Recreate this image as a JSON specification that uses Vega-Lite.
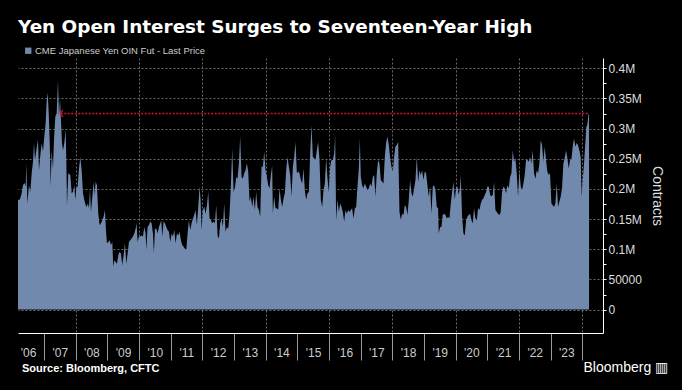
{
  "$schema": "https://vega.github.io/schema/vega-lite/v6.json",
  "width": 585,
  "height": 275,
  "autosize": {"type": "none"},
  "padding": {"left": 18, "top": 58, "right": 79, "bottom": 57},
  "background": "#000000",
  "config": {
    "view": {"stroke": null},
    "font": "Liberation Sans"
  },
  "title": {
    "text": "Yen Open Interest Surges to Seventeen-Year High",
    "anchor": "start",
    "frame": "group",
    "font": "DejaVu Sans",
    "fontSize": 18.4,
    "fontWeight": "bold",
    "color": "#ffffff",
    "baseline": "alphabetic",
    "offset": -5
  },
  "resolve": {"axis": {"x": "independent"}},
  "layer": [
    {
      "data": {"values": [
        {"t":2006.181,"v":182000},{"t":2006.234,"v":182000},{"t":2006.286,"v":190000},{"t":2006.339,"v":206000},{"t":2006.392,"v":210000},{"t":2006.423,"v":204000},{"t":2006.444,"v":242000},{"t":2006.476,"v":176000},{"t":2006.528,"v":206000},{"t":2006.570,"v":195000},{"t":2006.613,"v":226000},{"t":2006.655,"v":245000},{"t":2006.686,"v":276000},{"t":2006.718,"v":248000},{"t":2006.760,"v":264000},{"t":2006.812,"v":281000},{"t":2006.844,"v":231000},{"t":2006.886,"v":256000},{"t":2006.928,"v":276000},{"t":2006.970,"v":262000},{"t":2007.012,"v":287000},{"t":2007.054,"v":309000},{"t":2007.086,"v":345000},{"t":2007.118,"v":360000},{"t":2007.149,"v":328000},{"t":2007.181,"v":281000},{"t":2007.212,"v":204000},{"t":2007.244,"v":264000},{"t":2007.286,"v":234000},{"t":2007.317,"v":281000},{"t":2007.360,"v":320000},{"t":2007.402,"v":325000},{"t":2007.444,"v":380000},{"t":2007.475,"v":320000},{"t":2007.507,"v":350000},{"t":2007.538,"v":314000},{"t":2007.570,"v":276000},{"t":2007.602,"v":264000},{"t":2007.644,"v":276000},{"t":2007.686,"v":298000},{"t":2007.707,"v":248000},{"t":2007.728,"v":173000},{"t":2007.770,"v":226000},{"t":2007.833,"v":223000},{"t":2007.875,"v":193000},{"t":2007.917,"v":195000},{"t":2007.959,"v":206000},{"t":2007.991,"v":182000},{"t":2008.022,"v":201000},{"t":2008.065,"v":204000},{"t":2008.107,"v":234000},{"t":2008.149,"v":253000},{"t":2008.191,"v":231000},{"t":2008.233,"v":193000},{"t":2008.286,"v":179000},{"t":2008.338,"v":170000},{"t":2008.391,"v":176000},{"t":2008.422,"v":168000},{"t":2008.454,"v":201000},{"t":2008.485,"v":162000},{"t":2008.528,"v":187000},{"t":2008.570,"v":212000},{"t":2008.601,"v":190000},{"t":2008.633,"v":212000},{"t":2008.675,"v":206000},{"t":2008.717,"v":159000},{"t":2008.759,"v":140000},{"t":2008.801,"v":143000},{"t":2008.843,"v":148000},{"t":2008.885,"v":154000},{"t":2008.927,"v":165000},{"t":2008.959,"v":132000},{"t":2008.990,"v":110000},{"t":2009.033,"v":112000},{"t":2009.075,"v":115000},{"t":2009.117,"v":107000},{"t":2009.159,"v":112000},{"t":2009.190,"v":71000},{"t":2009.222,"v":82000},{"t":2009.264,"v":79000},{"t":2009.306,"v":76000},{"t":2009.348,"v":90000},{"t":2009.390,"v":96000},{"t":2009.432,"v":93000},{"t":2009.474,"v":74000},{"t":2009.516,"v":90000},{"t":2009.559,"v":110000},{"t":2009.601,"v":76000},{"t":2009.643,"v":93000},{"t":2009.685,"v":112000},{"t":2009.727,"v":115000},{"t":2009.769,"v":118000},{"t":2009.811,"v":121000},{"t":2009.853,"v":126000},{"t":2009.895,"v":134000},{"t":2009.927,"v":143000},{"t":2009.958,"v":112000},{"t":2010.001,"v":121000},{"t":2010.043,"v":121000},{"t":2010.085,"v":123000},{"t":2010.127,"v":121000},{"t":2010.169,"v":137000},{"t":2010.211,"v":126000},{"t":2010.232,"v":99000},{"t":2010.274,"v":137000},{"t":2010.316,"v":140000},{"t":2010.358,"v":146000},{"t":2010.400,"v":143000},{"t":2010.443,"v":126000},{"t":2010.474,"v":93000},{"t":2010.506,"v":134000},{"t":2010.548,"v":134000},{"t":2010.590,"v":126000},{"t":2010.632,"v":137000},{"t":2010.674,"v":143000},{"t":2010.706,"v":148000},{"t":2010.737,"v":121000},{"t":2010.779,"v":146000},{"t":2010.821,"v":143000},{"t":2010.863,"v":137000},{"t":2010.905,"v":132000},{"t":2010.948,"v":129000},{"t":2010.990,"v":112000},{"t":2011.032,"v":126000},{"t":2011.074,"v":121000},{"t":2011.116,"v":132000},{"t":2011.158,"v":110000},{"t":2011.200,"v":126000},{"t":2011.242,"v":123000},{"t":2011.284,"v":129000},{"t":2011.326,"v":115000},{"t":2011.368,"v":107000},{"t":2011.411,"v":104000},{"t":2011.453,"v":101000},{"t":2011.495,"v":99000},{"t":2011.537,"v":126000},{"t":2011.579,"v":148000},{"t":2011.621,"v":132000},{"t":2011.663,"v":143000},{"t":2011.705,"v":151000},{"t":2011.747,"v":157000},{"t":2011.789,"v":165000},{"t":2011.831,"v":140000},{"t":2011.874,"v":170000},
        {"t":2011.915,"v":204000},{"t":2011.947,"v":182000},{"t":2011.979,"v":132000},{"t":2012.021,"v":165000},{"t":2012.063,"v":170000},{"t":2012.105,"v":159000},{"t":2012.147,"v":173000},{"t":2012.189,"v":195000},{"t":2012.231,"v":151000},{"t":2012.273,"v":148000},{"t":2012.315,"v":143000},{"t":2012.357,"v":146000},{"t":2012.399,"v":143000},{"t":2012.442,"v":173000},{"t":2012.484,"v":123000},{"t":2012.526,"v":118000},{"t":2012.568,"v":143000},{"t":2012.610,"v":151000},{"t":2012.652,"v":137000},{"t":2012.694,"v":176000},{"t":2012.736,"v":129000},{"t":2012.778,"v":137000},{"t":2012.820,"v":134000},{"t":2012.862,"v":159000},{"t":2012.905,"v":206000},{"t":2012.947,"v":267000},{"t":2012.989,"v":195000},{"t":2013.031,"v":201000},{"t":2013.073,"v":220000},{"t":2013.115,"v":217000},{"t":2013.157,"v":242000},{"t":2013.199,"v":287000},{"t":2013.241,"v":220000},{"t":2013.283,"v":217000},{"t":2013.325,"v":226000},{"t":2013.367,"v":231000},{"t":2013.410,"v":242000},{"t":2013.452,"v":229000},{"t":2013.494,"v":179000},{"t":2013.536,"v":187000},{"t":2013.578,"v":170000},{"t":2013.620,"v":187000},{"t":2013.662,"v":165000},{"t":2013.704,"v":195000},{"t":2013.746,"v":170000},{"t":2013.788,"v":165000},{"t":2013.830,"v":154000},{"t":2013.873,"v":237000},{"t":2013.915,"v":237000},{"t":2013.957,"v":262000},{"t":2013.999,"v":231000},{"t":2014.041,"v":220000},{"t":2014.083,"v":206000},{"t":2014.125,"v":201000},{"t":2014.167,"v":223000},{"t":2014.209,"v":239000},{"t":2014.230,"v":159000},{"t":2014.272,"v":187000},{"t":2014.314,"v":168000},{"t":2014.357,"v":168000},{"t":2014.399,"v":165000},{"t":2014.441,"v":201000},{"t":2014.483,"v":182000},{"t":2014.525,"v":170000},{"t":2014.567,"v":184000},{"t":2014.609,"v":193000},{"t":2014.651,"v":231000},{"t":2014.693,"v":253000},{"t":2014.735,"v":237000},{"t":2014.777,"v":223000},{"t":2014.820,"v":187000},{"t":2014.862,"v":237000},{"t":2014.904,"v":253000},{"t":2014.946,"v":278000},{"t":2014.988,"v":226000},{"t":2015.030,"v":229000},{"t":2015.072,"v":226000},{"t":2015.114,"v":215000},{"t":2015.156,"v":209000},{"t":2015.198,"v":234000},{"t":2015.240,"v":198000},{"t":2015.282,"v":182000},{"t":2015.325,"v":193000},{"t":2015.367,"v":195000},{"t":2015.409,"v":259000},{"t":2015.451,"v":306000},{"t":2015.493,"v":253000},{"t":2015.535,"v":251000},{"t":2015.577,"v":248000},{"t":2015.619,"v":264000},{"t":2015.661,"v":278000},{"t":2015.703,"v":248000},{"t":2015.745,"v":182000},{"t":2015.788,"v":170000},{"t":2015.830,"v":198000},{"t":2015.872,"v":209000},{"t":2015.914,"v":251000},{"t":2015.956,"v":217000},{"t":2015.998,"v":195000},{"t":2016.040,"v":237000},{"t":2016.082,"v":248000},{"t":2016.124,"v":248000},{"t":2016.166,"v":259000},{"t":2016.198,"v":289000},{"t":2016.229,"v":148000},{"t":2016.271,"v":182000},{"t":2016.314,"v":162000},{"t":2016.356,"v":176000},{"t":2016.398,"v":170000},{"t":2016.440,"v":162000},{"t":2016.482,"v":146000},{"t":2016.524,"v":165000},{"t":2016.566,"v":159000},{"t":2016.608,"v":165000},{"t":2016.650,"v":162000},{"t":2016.692,"v":165000},{"t":2016.734,"v":168000},{"t":2016.777,"v":151000},{"t":2016.819,"v":168000},{"t":2016.861,"v":170000},{"t":2016.903,"v":204000},{"t":2016.945,"v":234000},{"t":2016.977,"v":284000},{"t":2017.008,"v":220000},{"t":2017.050,"v":206000},{"t":2017.092,"v":201000},{"t":2017.134,"v":209000},{"t":2017.176,"v":204000},{"t":2017.218,"v":198000},{"t":2017.261,"v":201000},{"t":2017.303,"v":209000},{"t":2017.345,"v":204000},{"t":2017.387,"v":220000},{"t":2017.429,"v":223000},{"t":2017.471,"v":187000},{"t":2017.513,"v":226000},{"t":2017.555,"v":248000},{"t":2017.597,"v":242000},{"t":2017.639,"v":215000},{"t":2017.682,"v":212000},{"t":2017.724,"v":209000},{"t":2017.766,"v":253000},{"t":2017.808,"v":276000},{"t":2017.850,"v":287000},{"t":2017.892,"v":273000},{"t":2017.934,"v":251000},{"t":2017.976,"v":237000},{"t":2018.018,"v":229000},{"t":2018.060,"v":253000},{"t":2018.102,"v":270000},{"t":2018.144,"v":273000},{"t":2018.187,"v":278000},
        {"t":2018.229,"v":162000},{"t":2018.271,"v":149000},{"t":2018.313,"v":159000},{"t":2018.355,"v":157000},{"t":2018.397,"v":173000},{"t":2018.439,"v":170000},{"t":2018.481,"v":157000},{"t":2018.523,"v":182000},{"t":2018.565,"v":215000},{"t":2018.607,"v":193000},{"t":2018.649,"v":187000},{"t":2018.692,"v":201000},{"t":2018.734,"v":215000},{"t":2018.776,"v":253000},{"t":2018.818,"v":212000},{"t":2018.860,"v":231000},{"t":2018.902,"v":223000},{"t":2018.944,"v":231000},{"t":2018.986,"v":215000},{"t":2019.028,"v":229000},{"t":2019.070,"v":226000},{"t":2019.112,"v":206000},{"t":2019.154,"v":187000},{"t":2019.197,"v":204000},{"t":2019.239,"v":159000},{"t":2019.281,"v":204000},{"t":2019.323,"v":206000},{"t":2019.365,"v":198000},{"t":2019.407,"v":170000},{"t":2019.449,"v":168000},{"t":2019.470,"v":126000},{"t":2019.512,"v":137000},{"t":2019.554,"v":137000},{"t":2019.596,"v":157000},{"t":2019.638,"v":159000},{"t":2019.681,"v":157000},{"t":2019.723,"v":151000},{"t":2019.765,"v":154000},{"t":2019.807,"v":151000},{"t":2019.849,"v":176000},{"t":2019.891,"v":195000},{"t":2019.933,"v":212000},{"t":2019.975,"v":182000},{"t":2020.017,"v":201000},{"t":2020.059,"v":204000},{"t":2020.101,"v":190000},{"t":2020.143,"v":204000},{"t":2020.165,"v":223000},{"t":2020.207,"v":154000},{"t":2020.249,"v":126000},{"t":2020.291,"v":123000},{"t":2020.333,"v":148000},{"t":2020.375,"v":154000},{"t":2020.417,"v":157000},{"t":2020.459,"v":159000},{"t":2020.501,"v":148000},{"t":2020.543,"v":143000},{"t":2020.585,"v":168000},{"t":2020.628,"v":151000},{"t":2020.670,"v":148000},{"t":2020.712,"v":168000},{"t":2020.754,"v":165000},{"t":2020.796,"v":176000},{"t":2020.838,"v":182000},{"t":2020.880,"v":184000},{"t":2020.922,"v":190000},{"t":2020.964,"v":195000},{"t":2021.006,"v":204000},{"t":2021.048,"v":204000},{"t":2021.091,"v":190000},{"t":2021.133,"v":188000},{"t":2021.175,"v":190000},{"t":2021.217,"v":212000},{"t":2021.259,"v":165000},{"t":2021.301,"v":162000},{"t":2021.343,"v":159000},{"t":2021.385,"v":157000},{"t":2021.427,"v":162000},{"t":2021.469,"v":195000},{"t":2021.511,"v":204000},{"t":2021.553,"v":201000},{"t":2021.596,"v":193000},{"t":2021.638,"v":206000},{"t":2021.680,"v":201000},{"t":2021.722,"v":220000},{"t":2021.764,"v":226000},{"t":2021.806,"v":264000},{"t":2021.848,"v":245000},{"t":2021.890,"v":251000},{"t":2021.932,"v":226000},{"t":2021.974,"v":187000},{"t":2022.016,"v":231000},{"t":2022.059,"v":204000},{"t":2022.101,"v":198000},{"t":2022.143,"v":209000},{"t":2022.185,"v":223000},{"t":2022.227,"v":248000},{"t":2022.269,"v":248000},{"t":2022.311,"v":245000},{"t":2022.353,"v":253000},{"t":2022.395,"v":242000},{"t":2022.437,"v":264000},{"t":2022.479,"v":226000},{"t":2022.522,"v":217000},{"t":2022.564,"v":231000},{"t":2022.606,"v":226000},{"t":2022.648,"v":242000},{"t":2022.690,"v":281000},{"t":2022.732,"v":273000},{"t":2022.774,"v":245000},{"t":2022.816,"v":270000},{"t":2022.858,"v":248000},{"t":2022.900,"v":229000},{"t":2022.942,"v":223000},{"t":2022.984,"v":226000},{"t":2023.027,"v":176000},{"t":2023.069,"v":173000},{"t":2023.111,"v":170000},{"t":2023.153,"v":176000},{"t":2023.195,"v":209000},{"t":2023.237,"v":170000},{"t":2023.279,"v":179000},{"t":2023.321,"v":187000},{"t":2023.363,"v":201000},{"t":2023.405,"v":242000},{"t":2023.447,"v":251000},{"t":2023.490,"v":264000},{"t":2023.532,"v":251000},{"t":2023.574,"v":234000},{"t":2023.616,"v":248000},{"t":2023.658,"v":248000},{"t":2023.700,"v":270000},{"t":2023.742,"v":284000},{"t":2023.784,"v":270000},{"t":2023.826,"v":276000},{"t":2023.868,"v":273000},{"t":2023.910,"v":264000},{"t":2023.952,"v":253000},{"t":2023.984,"v":187000},{"t":2024.016,"v":215000},{"t":2024.058,"v":242000},{"t":2024.100,"v":276000},{"t":2024.131,"v":303000},{"t":2024.163,"v":306000},{"t":2024.195,"v":322000},{"t":2024.216,"v":325000}
      ]},
      "mark": {"type": "area", "interpolate": "linear"},
      "encoding": {
        "x": {
          "field": "t", "type": "quantitative",
          "scale": {"domain": [2006.181, 2024.657], "nice": false, "zero": false},
          "axis": {
            "orient": "bottom",
            "zindex": 0,
            "values": [2007,2008,2009,2010,2011,2012,2013,2014,2015,2016,2017,2018,2019,2020,2021,2022,2023,2024],
            "tickCount": 100,
            "labels": false,
            "tickSize": 27,
            "tickColor": "#9a9a9a",
            "grid": true,
            "gridColor": "#6a6a6a",
            "gridDash": [2, 2],
            "gridOpacity": {"condition": {"test": "datum.value % 2 === 0", "value": 1}, "value": 0},
            "domainColor": "#ffffff",
            "title": "Source: Bloomberg, CFTC",
            "titleX": 3.5,
            "titleY": 35.5,
            "titleAlign": "left",
            "titleAnchor": "start",
            "titleBaseline": "middle",
            "titleFontSize": 11,
            "titleFontWeight": "bold",
            "titleColor": "#ffffff"
          }
        },
        "y": {
          "field": "v", "type": "quantitative",
          "scale": {"domain": [-38800, 417100], "nice": false, "zero": false},
          "axis": {
            "orient": "right",
            "zindex": 0,
            "values": [0,25000,50000,75000,100000,125000,150000,175000,200000,225000,250000,275000,300000,325000,350000,375000,400000],
            "tickCount": 100,
            "format": "d",
            "labelExpr": "datum.value % 50000 !== 0 ? '' : (datum.value >= 100000 ? (datum.value / 1000000) + 'M' : datum.label)",
            "labelOverlap": false,
            "labelFontSize": 12,
            "labelColor": "#dddddd",
            "labelPadding": 2,
            "tickSize": 3,
            "tickColor": "#ffffff",
            "grid": true,
            "gridColor": "#6a6a6a",
            "gridDash": [2, 2],
            "gridOpacity": {"condition": {"test": "datum.value % 50000 === 0", "value": 1}, "value": 0},
            "domainColor": "#ffffff",
            "title": "Contracts",
            "titleFontSize": 14,
            "titleFontWeight": "normal",
            "titleColor": "#dddddd",
            "titlePadding": 8
          }
        },
        "y2": {"datum": 0},
        "color": {
          "datum": "CME Japanese Yen OIN Fut - Last Price",
          "type": "nominal",
          "scale": {"range": ["#7189ac"]},
          "legend": {
            "orient": "none",
            "legendX": 5.5,
            "legendY": -12,
            "title": null,
            "padding": 0,
            "symbolType": "square",
            "symbolSize": 40,
            "symbolStrokeWidth": 0,
            "labelFontSize": 9.5,
            "labelLimit": 400,
            "labelColor": "#cccccc",
            "labelOffset": 2
          }
        }
      }
    },
    {
      "data": {"values": [{"t1": 2007.53, "t2": 2024.216, "v": 325000}]},
      "mark": {"type": "rule", "color": "#d3132f", "strokeDash": [2, 1.5], "strokeWidth": 1.5},
      "encoding": {
        "x": {
          "field": "t1", "type": "quantitative",
          "axis": {
            "orient": "bottom",
            "zindex": 0,
            "values": [2006.5,2007.5,2008.5,2009.5,2010.5,2011.5,2012.5,2013.5,2014.5,2015.5,2016.5,2017.5,2018.5,2019.5,2020.5,2021.5,2022.5,2023.5],
            "tickCount": 100,
            "labelExpr": "\"'\" + slice(format(floor(datum.value), 'd'), 2)",
            "labelAlign": "center",
            "labelBaseline": "top",
            "labelPadding": 14,
            "labelFontSize": 12,
            "labelColor": "#cccccc",
            "labelOverlap": false,
            "labelBound": false,
            "labelFlush": false,
            "ticks": false,
            "grid": false,
            "domain": false,
            "title": "Bloomberg \u25A5",
            "titleX": 565, "titleY": 34,
            "titleAlign": "left", "titleAnchor": "start", "titleBaseline": "middle",
            "titleFontSize": 14, "titleFontWeight": "normal", "titleColor": "#ffffff"
          }
        },
        "x2": {"field": "t2"},
        "y": {"field": "v", "type": "quantitative"}
      }
    },
    {
      "data": {"values": [{"t": 2007.531, "v": 325000}]},
      "mark": {"type": "point", "shape": "M1,-1.6L-0.2,0L1,1.6", "size": 20, "filled": false, "stroke": "#d3132f", "strokeWidth": 1.2, "opacity": 1},
      "encoding": {
        "x": {"field": "t", "type": "quantitative", "axis": null},
        "y": {"field": "v", "type": "quantitative"}
      }
    }
  ]
}
